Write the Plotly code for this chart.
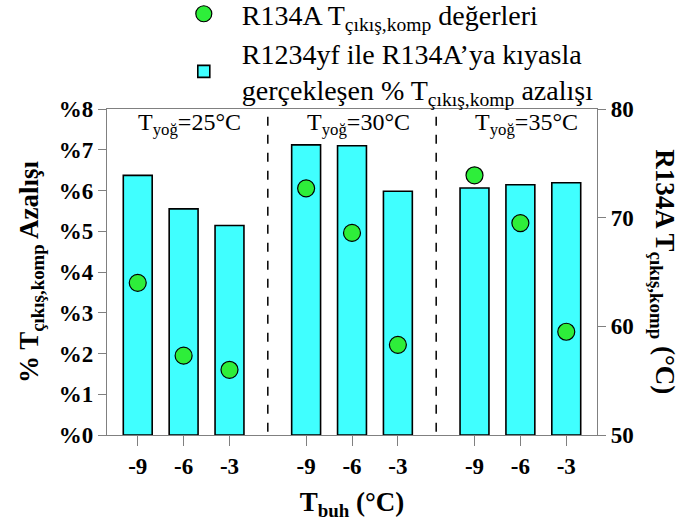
import plotly.graph_objects as go

# ---- data ----
t_buh_labels = ["-9", "-6", "-3"]
t_yog_groups = ["T<sub>yoğ</sub>=25°C", "T<sub>yoğ</sub>=30°C", "T<sub>yoğ</sub>=35°C"]
pct_reduction = [6.37, 5.55, 5.14, 7.12, 7.10, 5.98, 6.06, 6.14, 6.19]   # left axis (%)
r134a_t_out = [64.0, 57.3, 56.0, 72.7, 68.6, 58.3, 73.9, 69.5, 59.5]      # right axis (°C)
left_tick_vals = [0, 1, 2, 3, 4, 5, 6, 7, 8]
left_tick_text = ["%0", "%1", "%2", "%3", "%4", "%5", "%6", "%7", "%8"]
right_tick_vals = [50, 60, 70, 80]

# ---- layout helpers (positions) ----
GROUP_STEP = 3.67
xpos = [g * GROUP_STEP + i for g in range(len(t_yog_groups)) for i in range(len(t_buh_labels))]
xtext = t_buh_labels * len(t_yog_groups)
group_centers = [g * GROUP_STEP + 1 for g in range(len(t_yog_groups))]
separators = [(g * GROUP_STEP + 2 + (g + 1) * GROUP_STEP) / 2 for g in range(len(t_yog_groups) - 1)]

FONT = "Liberation Serif"

fig = go.Figure()
fig.add_trace(go.Bar(
    x=xpos, y=pct_reduction, width=0.63,
    name="R1234yf ile R134A’ya kıyasla<br>gerçekleşen % T<sub>çıkış,komp</sub> azalışı",
    marker=dict(color="#40FFFF", line=dict(color="black", width=1.6)),
))
fig.add_trace(go.Scatter(
    x=xpos, y=r134a_t_out, yaxis="y2", mode="markers",
    name="R134A T<sub>çıkış,komp</sub> değerleri",
    marker=dict(size=17, color="#2EEE3A", line=dict(color="black", width=1.2)),
))

for xs in separators:
    fig.add_shape(type="line", xref="x", yref="paper", x0=xs, x1=xs, y0=0.01, y1=1.0,
                  line=dict(color="black", width=1.5, dash="dash"))

for xc, txt in zip(group_centers, t_yog_groups):
    fig.add_annotation(x=xc, y=0.955, xref="x", yref="paper", text=txt, showarrow=False,
                       xanchor="center", yanchor="middle", xshift=6,
                       font=dict(family=FONT, size=24, color="black"))

fig.add_annotation(x=1.134, y=0.5, xref="paper", yref="paper",
                   xanchor="center", yanchor="middle",
                   text="<b>R134A T<sub>çıkış,komp</sub> (°C)</b>", textangle=90, showarrow=False,
                   font=dict(family=FONT, size=27, color="black"))

axis_common = dict(showgrid=False, zeroline=False, linecolor="#808080", linewidth=1.2,
                   ticks="outside", tickcolor="#808080", tickwidth=1.2,
                   tickfont=dict(family=FONT, size=23, color="black", weight="bold"))

fig.update_layout(
    width=681, height=523,
    margin=dict(l=107, r=84, t=109, b=88, autoexpand=False),
    plot_bgcolor="white", paper_bgcolor="white",
    font=dict(family=FONT, color="black"),
    showlegend=True,
    legend=dict(x=0.12, y=1.368, xanchor="left", yanchor="top", traceorder="reversed",
                bgcolor="rgba(0,0,0,0)", itemwidth=66, valign="middle", tracegroupgap=0,
                font=dict(family=FONT, size=28, color="black")),
    xaxis=dict(range=[-0.67, 10.01], tickvals=xpos, ticktext=xtext, showline=True, mirror=True,
               ticklen=10,
               title=dict(text="<b>T<sub>buh</sub> (°C)</b>", font=dict(family=FONT, size=27), standoff=14),
               **axis_common),
    yaxis=dict(range=[0, 8], tickvals=left_tick_vals, ticktext=left_tick_text, showline=True,
               ticklen=8,
               title=dict(text="<b>% T<sub>çıkış,komp</sub> Azalışı</b>", font=dict(family=FONT, size=27), standoff=12),
               **axis_common),
    yaxis2=dict(range=[50, 80], tickvals=right_tick_vals, overlaying="y", side="right",
                showline=True, ticklen=8, **axis_common),
)

fig.write_html("out.html")
